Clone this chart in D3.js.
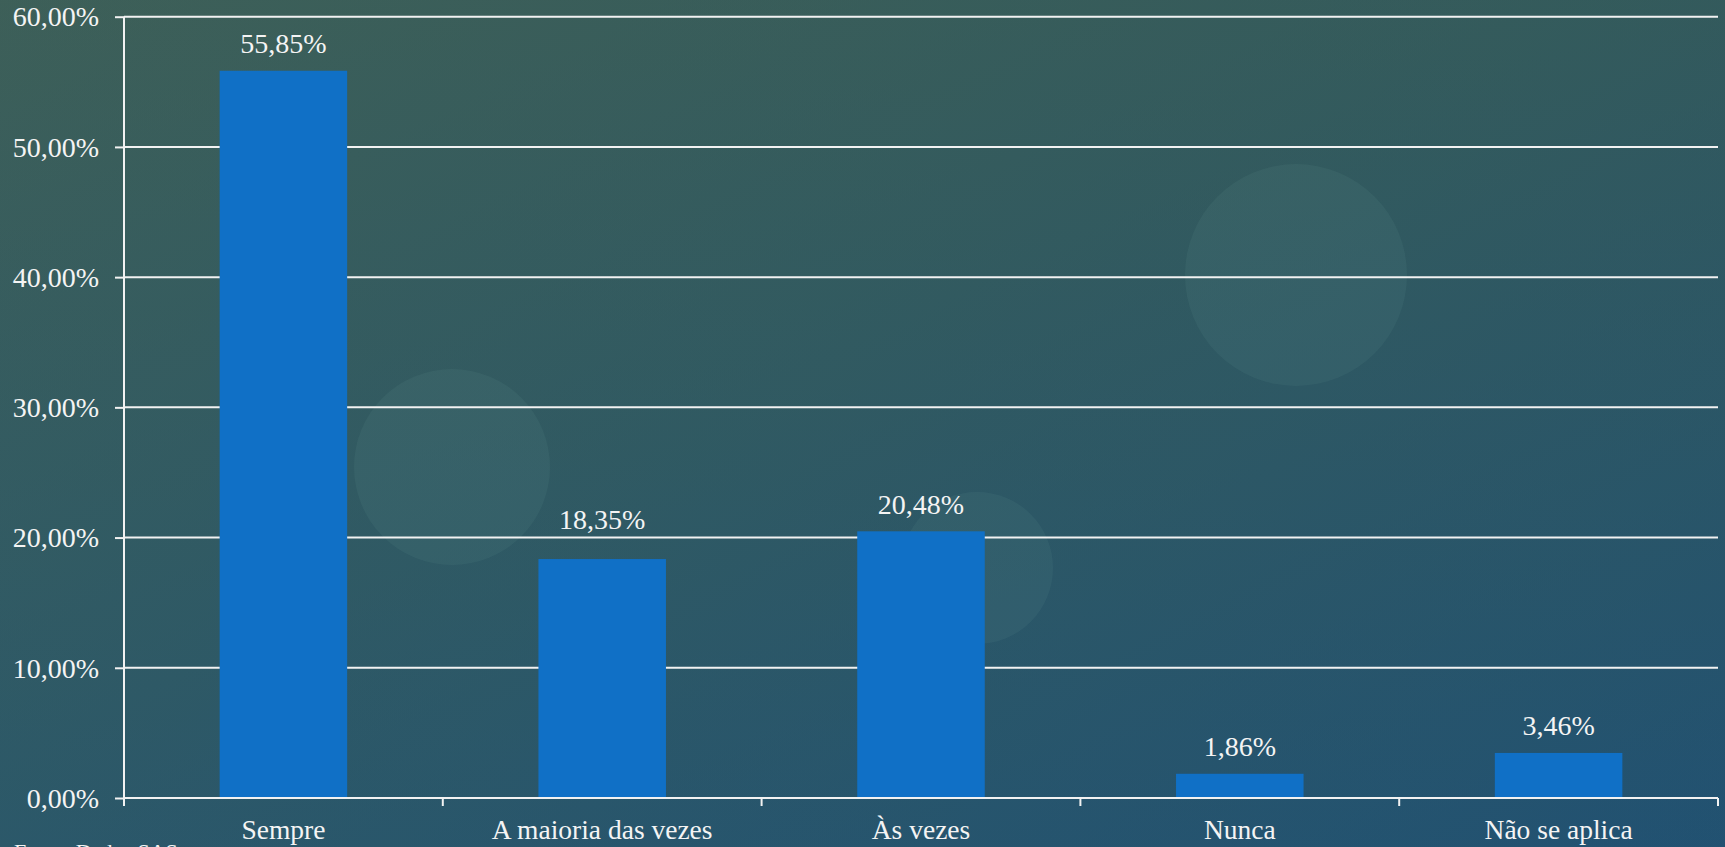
<!DOCTYPE html>
<html lang="pt">
<head>
<meta charset="utf-8">
<title>Frequência das respostas</title>
<script src="https://cdn.jsdelivr.net/npm/d3@7"></script>
<style>
  html, body { margin: 0; padding: 0; overflow: hidden; background: #2d5865; }
  svg { display: block; }
  text { font-family: "Liberation Serif", "DejaVu Serif", serif; fill: #f4f4f4; }
</style>
</head>
<body>
<svg id="chart" width="1725" height="847"></svg>
<script>
// Categories and their shares (%)
const categories = ["Sempre", "A maioria das vezes", "Às vezes", "Nunca", "Não se aplica"];
const values = [55.85, 18.35, 20.48, 1.86, 3.46];
const yTicks = [0, 10, 20, 30, 40, 50, 60];
const sourceNote = "Fonte: Dados SAS";

const W = 1725, H = 847;
const margin = { top: 16.7, right: 7, bottom: 49, left: 124 };
const innerW = W - margin.left - margin.right;
const innerH = H - margin.top - margin.bottom;

const svg = d3.select("#chart");

// Background: teal-to-blue wash with a few soft bokeh discs
const defs = svg.append("defs");
const bg = defs.append("linearGradient").attr("id", "bg")
  .attr("x1", "0%").attr("y1", "0%").attr("x2", "100%").attr("y2", "100%");
bg.append("stop").attr("offset", "0%").attr("stop-color", "#3f605a");
bg.append("stop").attr("offset", "45%").attr("stop-color", "#31595f");
bg.append("stop").attr("offset", "100%").attr("stop-color", "#204e6d");
svg.append("rect").attr("width", W).attr("height", H).attr("fill", "url(#bg)");

const bgV = defs.append("linearGradient").attr("id", "bgV")
  .attr("x1", "0%").attr("y1", "0%").attr("x2", "0%").attr("y2", "100%");
bgV.append("stop").attr("offset", "0%").attr("stop-color", "#3a5e55").attr("stop-opacity", 0.35);
bgV.append("stop").attr("offset", "100%").attr("stop-color", "#24587a").attr("stop-opacity", 0.35);
svg.append("rect").attr("width", W).attr("height", H).attr("fill", "url(#bgV)");

const discs = [
  { cx: 1296, cy: 275, r: 111 },
  { cx: 452, cy: 467, r: 98 },
  { cx: 977, cy: 568, r: 76 }
];
svg.append("g").selectAll("circle").data(discs).join("circle")
  .attr("cx", d => d.cx).attr("cy", d => d.cy).attr("r", d => d.r)
  .attr("fill", "#8fc0b8").attr("fill-opacity", 0.07);

const g = svg.append("g").attr("transform", `translate(${margin.left},${margin.top})`);

const x = d3.scaleBand().domain(categories).range([0, innerW]).paddingInner(0.6).paddingOuter(0.3);
const y = d3.scaleLinear().domain([0, 60]).range([innerH, 0]);

const fmt = v => d3.format(".2f")(v).replace(".", ",") + "%";

// Horizontal gridlines
g.append("g").selectAll("line").data(yTicks.filter(t => t > 0)).join("line")
  .attr("x1", 0).attr("x2", innerW)
  .attr("y1", d => y(d)).attr("y2", d => y(d))
  .attr("stroke", "#f2f2f2").attr("stroke-width", 2);

// Bars
g.append("g").selectAll("rect").data(values).join("rect")
  .attr("x", (d, i) => x(categories[i]))
  .attr("y", d => y(d))
  .attr("width", x.bandwidth())
  .attr("height", d => innerH - y(d))
  .attr("fill", "#1070c6");

// Y axis
const yAxis = g.append("g")
  .call(d3.axisLeft(y).tickValues(yTicks).tickFormat(d => fmt(d)).tickSize(9).tickPadding(16));
yAxis.select(".domain").attr("stroke", "#f2f2f2").attr("stroke-width", 2)
  .attr("d", `M0,0V${innerH + 8}`);
yAxis.selectAll(".tick line").attr("stroke", "#f2f2f2").attr("stroke-width", 2);
yAxis.selectAll(".tick text")
  .attr("font-size", 28).attr("dy", "0.33em")
  .style("font-family", "'Liberation Serif', serif").attr("fill", "#f4f4f4");

// X axis: baseline with category separators
const step = x.step();
const xAxis = g.append("g").attr("transform", `translate(0,${innerH})`);
xAxis.append("line").attr("x1", 0).attr("x2", innerW)
  .attr("stroke", "#f2f2f2").attr("stroke-width", 2);
xAxis.selectAll("line.sep").data(d3.range(categories.length + 1)).join("line")
  .attr("class", "sep")
  .attr("x1", i => i === 0 ? 0 : x(categories[i - 1]) + x.bandwidth() + (step - x.bandwidth()) / 2)
  .attr("x2", i => i === 0 ? 0 : x(categories[i - 1]) + x.bandwidth() + (step - x.bandwidth()) / 2)
  .attr("y1", 0).attr("y2", 8)
  .attr("stroke", "#f2f2f2").attr("stroke-width", 2);
xAxis.selectAll("text").data(categories).join("text")
  .attr("x", d => x(d) + x.bandwidth() / 2)
  .attr("y", 41)
  .attr("text-anchor", "middle")
  .attr("font-size", 27.5)
  .text(d => d);

// Value labels above bars (the second one sits a little higher, clear of the gridline)
const lift = [0, 12.5, 0, 0, 0];
g.append("g").selectAll("text").data(values).join("text")
  .attr("x", (d, i) => x(categories[i]) + x.bandwidth() / 2)
  .attr("y", (d, i) => y(d) - 17.5 - lift[i])
  .attr("text-anchor", "middle")
  .attr("font-size", 28)
  .text(d => fmt(d));

// Source note along the bottom edge
svg.append("text").attr("x", 14).attr("y", 859)
  .attr("font-size", 22).text(sourceNote);
</script>
</body>
</html>
